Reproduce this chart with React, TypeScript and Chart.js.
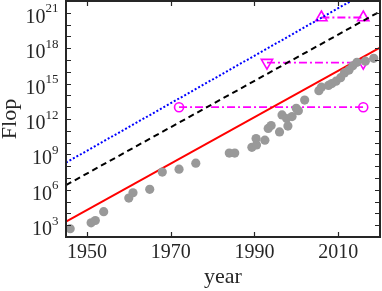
import React, { useEffect, useRef } from 'react';
import { Chart, registerables } from 'chart.js';

Chart.register(...registerables);

// Observed systems (year, Flop)
const dotYears = [
  1946, 1951, 1952, 1954, 1960, 1961, 1965, 1968, 1972, 1976,
  1984, 1985.3, 1989.4, 1990.5, 1990.4, 1992.5, 1993.3, 1994, 1996, 1996.6,
  1997.7, 1998, 1999, 2000, 2000.5, 2002, 2005.4, 2006, 2007.7, 2008.5,
  2009.5, 2010.6, 2011.5, 2012.6, 2013.5, 2014.5, 2016.5, 2018.5,
];
const dotFlop = [
  5e2, 1.6e3, 2.5e3, 1.4e4, 2e5, 5.6e5, 1.1e6, 3.2e7, 5.6e7, 1.8e8,
  1.3e9, 1.3e9, 4e9, 6.3e9, 2.2e10, 1.6e10, 1.6e11, 2.8e11, 8e10, 2.2e12,
  1.1e12, 2.5e11, 1.6e12, 8e12, 5e12, 4e13, 2.5e14, 5e14, 7e14, 1e15,
  1.6e15, 3.2e15, 8e15, 1.4e16, 3.2e16, 6.3e16, 8e16, 1.4e17,
];

// Trend lines
const trendYears = [1945, 2020];
const redTrend = [2e3, 1.1e18];
const blackTrend = [2.5e6, 1.3e21];
const blueTrend = [2e8, 2.5e23];

// Magenta markers
const circleYears = [1972, 2016];
const circleFlop = [1e13, 1e13];
const downYears = [1993, 2016];
const downFlop = [6e16, 6e16];
const upYears = [2006, 2016];
const upFlop = [4e20, 4e20];

// Axes
const xMin = 1945;
const xMax = 2020;
const xTicks = [1950, 1970, 1990, 2010];
const yMinExp = 2;
const yMaxExp = 22;
const yLabelExps = [3, 6, 9, 12, 15, 18, 21];

const FONT = '"Liberation Serif", "Times New Roman", serif';
const INK = '#262626';
const MAGENTA = '#ff00ff';

const pts = (xs: number[], ys: number[]) => xs.map((x, i) => ({ x, y: ys[i] }));

const framePlugin = {
  id: 'frame',
  afterDraw(chart: any) {
    const { ctx, chartArea: a, scales } = chart;
    const xs = scales.x;
    const ys = scales.y;
    ctx.save();
    ctx.strokeStyle = INK;
    ctx.lineWidth = 1.2;
    const tl = 5;
    ctx.beginPath();
    xTicks.forEach((v) => {
      const px = Math.round(xs.getPixelForValue(v)) + 0.5;
      ctx.moveTo(px, a.bottom);
      ctx.lineTo(px, a.bottom - tl);
      ctx.moveTo(px, a.top);
      ctx.lineTo(px, a.top + tl);
    });
    for (let e = yMinExp; e <= yMaxExp; e++) {
      const py = Math.round(ys.getPixelForValue(Math.pow(10, e))) + 0.5;
      ctx.moveTo(a.left, py);
      ctx.lineTo(a.left + tl, py);
      ctx.moveTo(a.right, py);
      ctx.lineTo(a.right - tl, py);
    }
    ctx.stroke();
    ctx.lineWidth = 2;
    ctx.strokeRect(a.left, a.top, a.right - a.left, a.bottom - a.top);

    // y tick labels: 10 with superscript exponent
    ctx.fillStyle = INK;
    ctx.textAlign = 'right';
    ctx.textBaseline = 'alphabetic';
    const rightX = 58.5;
    yLabelExps.forEach((e) => {
      const py = ys.getPixelForValue(Math.pow(10, e));
      ctx.font = `13px ${FONT}`;
      const exp = String(e);
      ctx.fillText(exp, rightX, py - 0.5);
      const w = ctx.measureText(exp).width;
      ctx.font = `20px ${FONT}`;
      ctx.fillText('10', rightX - w, py + 10);
    });
    ctx.restore();
  },
};

export default function App() {
  const ref = useRef<HTMLCanvasElement>(null);
  useEffect(() => {
    if (!ref.current) return;
    const chart = new Chart(ref.current, {
      type: 'scatter',
      data: {
        datasets: [
          {
            data: pts(dotYears, dotFlop),
            pointRadius: 4.6,
            pointBackgroundColor: '#999999',
            pointBorderWidth: 0,
            showLine: false,
          },
          {
            data: pts(trendYears, blueTrend),
            showLine: true,
            borderColor: '#0000ff',
            borderWidth: 2,
            borderDash: [2, 2],
            pointRadius: 0,
          },
          {
            data: pts(trendYears, blackTrend),
            showLine: true,
            borderColor: '#000000',
            borderWidth: 2,
            borderDash: [6, 4],
            pointRadius: 0,
          },
          {
            data: pts(trendYears, redTrend),
            showLine: true,
            borderColor: '#ff0000',
            borderWidth: 2,
            pointRadius: 0,
          },
          {
            data: pts(circleYears, circleFlop),
            showLine: true,
            borderColor: MAGENTA,
            borderWidth: 1.8,
            borderDash: [8, 3, 2, 3],
            pointStyle: 'circle',
            pointRadius: 4.5,
            pointBorderColor: MAGENTA,
            pointBackgroundColor: 'rgba(0,0,0,0)',
            pointBorderWidth: 1.6,
          },
          {
            data: pts(downYears, downFlop),
            showLine: true,
            borderColor: MAGENTA,
            borderWidth: 1.8,
            borderDash: [8, 3, 2, 3],
            pointStyle: 'triangle',
            rotation: 180,
            pointRotation: 180,
            pointRadius: 6.5,
            pointBorderColor: MAGENTA,
            pointBackgroundColor: 'rgba(0,0,0,0)',
            pointBorderWidth: 1.6,
          } as any,
          {
            data: pts(upYears, upFlop),
            showLine: true,
            borderColor: MAGENTA,
            borderWidth: 1.8,
            borderDash: [8, 3, 2, 3],
            pointStyle: 'triangle',
            pointRadius: 6.5,
            pointBorderColor: MAGENTA,
            pointBackgroundColor: 'rgba(0,0,0,0)',
            pointBorderWidth: 1.6,
          },
        ],
      },
      options: {
        animation: false,
        responsive: true,
        maintainAspectRatio: false,
        layout: { autoPadding: false, padding: { top: 1, right: 2, left: 0, bottom: 0 } },
        plugins: { legend: { display: false }, tooltip: { enabled: false } },
        scales: {
          x: {
            type: 'linear',
            position: 'bottom',
            min: xMin,
            max: xMax,
            grid: { display: false, drawTicks: false },
            border: { display: false },
            afterBuildTicks: (s: any) => {
              s.ticks = xTicks.map((v) => ({ value: v }));
            },
            afterFit: (s: any) => {
              s.height = 54;
              s.paddingLeft = 0;
              s.paddingRight = 0;
              s.paddingTop = 0;
              s.paddingBottom = 0;
            },
            ticks: {
              color: INK,
              font: { family: FONT, size: 20 },
              padding: 4,
              maxRotation: 0,
              callback: (v: any) => String(v),
            },
            title: {
              display: true,
              text: 'year',
              color: INK,
              font: { family: FONT, size: 22, lineHeight: 1 },
              padding: { top: 0, bottom: 3 },
            },
          },
          y: {
            type: 'logarithmic',
            position: 'left',
            min: Math.pow(10, yMinExp),
            max: Math.pow(10, yMaxExp),
            grid: { display: false, drawTicks: false },
            border: { display: false },
            afterBuildTicks: (s: any) => {
              const t = [];
              for (let e = yMinExp; e <= yMaxExp; e++) t.push({ value: Math.pow(10, e) });
              s.ticks = t;
            },
            afterFit: (s: any) => {
              s.width = 66;
              s.paddingLeft = 0;
              s.paddingRight = 0;
              s.paddingTop = 0;
              s.paddingBottom = 0;
            },
            ticks: { display: false },
            title: {
              display: true,
              text: 'Flop',
              color: INK,
              font: { family: FONT, size: 22, lineHeight: 1 },
              padding: { top: -1, bottom: 0 },
            },
          },
        },
      },
      plugins: [framePlugin],
    } as any);
    return () => chart.destroy();
  }, []);
  return (
    <div style={{ position: 'absolute', left: 0, top: 0, width: 382, height: 291 }}>
      <canvas ref={ref} />
    </div>
  );
}
